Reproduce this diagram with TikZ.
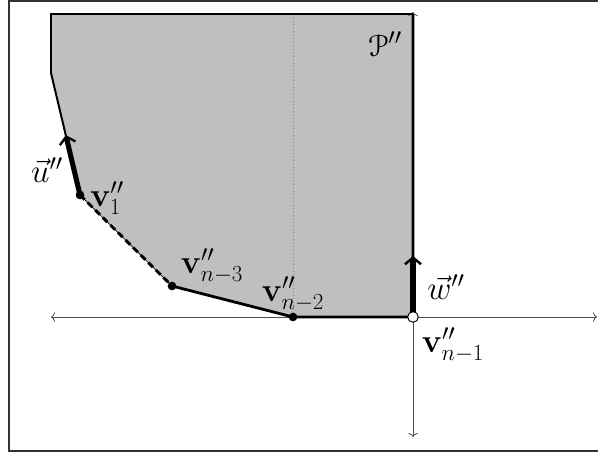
\documentclass[tikz,border=0pt]{standalone}
\usepackage{amsmath}
\usepackage{eucal}
\usetikzlibrary{arrows.meta,calc}
\begin{document}
\begin{tikzpicture}[x=0.75pt,y=-0.75pt,
  lbl/.style={font=\fontsize{23}{27}\selectfont, inner sep=0pt},
  axis/.style={draw=black!70, line width=0.6pt},
  edge/.style={draw=black, line width=2.1pt},
  vec/.style={draw=black, line width=3.8pt, -{Straight Barb[length=5pt,width=12pt,line width=1.8pt]}},
  vtx/.style={circle, fill=black, inner sep=0pt, minimum size=6.5pt},
  ovtx/.style={circle, fill=white, draw=black, line width=0.7pt, inner sep=0pt, minimum size=8pt}]
\useasboundingbox (0,0) rectangle (598,452);
\draw[black!80, line width=1pt] (9,1) rectangle (600,451);
% coordinates
\coordinate (tl) at (51,14);
\coordinate (tr) at (413,14);
\coordinate (l) at (51,73);
\coordinate (v1c) at (80,195);
\coordinate (v3c) at (172,286);
\coordinate (v2c) at (293,317);
\coordinate (o) at (413,317);
\coordinate (dt) at (293,14);
\fill[black!25] (tl) -- (tr) -- (o) -- (v2c) -- (v3c) -- (v1c) -- (l) -- cycle;
\draw[black!50, dotted, line width=0.6pt] (dt) -- (v2c);
% axes
\coordinate (xl) at (51,317);
\coordinate (xr) at (597,317);
\coordinate (yt) at (413,12);
\coordinate (yb) at (413,437);
\draw[axis, {To[length=3pt,width=7pt]}-{To[length=3pt,width=7pt]}] (xl) -- (xr);
\draw[axis, {To[length=3pt,width=7pt]}-{To[length=3pt,width=7pt]}] (yb) -- (yt);
% boundary
\draw[black, line width=0.8pt] (l) -- (tl) -- (tr);
\draw[black, line width=1.5pt] (l) -- (v1c);
\draw[black, line width=0.5pt] (v1c) -- (v3c);
\draw[black, line width=2.2pt, dash pattern=on 5pt off 3pt] (v1c) -- (v3c);
\draw[edge] (v3c) -- (v2c) -- (o) -- (tr);
% vectors
\coordinate (ue) at ($(v1c)!0.49!(l)$);
\coordinate (we) at (413,256);
\draw[vec] (v1c) -- (ue);
\draw[vec] (o) -- (we);
% vertices
\node[vtx] (v1) at (v1c) {};
\node[vtx] (v3) at (v3c) {};
\node[vtx] (v2) at (v2c) {};
\node[ovtx] (v0) at (o) {};
% labels
\node[lbl] (P) at (385,44) {$\mathcal{P}''$};
\node[lbl, anchor=west] (l1) at (90,198) {$\mathbf{v}''_1$};
\node[lbl] (l3) at (212,266) {$\mathbf{v}''_{n-3}$};
\node[lbl] (l2) at (293,294) {$\mathbf{v}''_{n-2}$};
\node[lbl] (l0) at (453,345) {$\mathbf{v}''_{n-1}$};
\node[lbl] (lw) at (446,287) {$\vec{w}''$};
\node[lbl] (lu) at (47,170) {$\vec{u}''$};
\end{tikzpicture}
\end{document}
